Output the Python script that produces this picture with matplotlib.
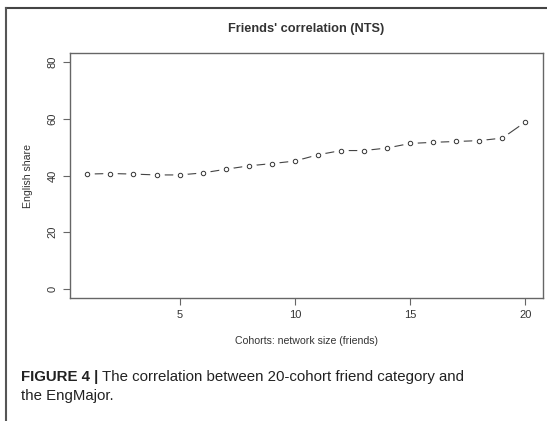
import matplotlib
matplotlib.use("Agg")
import matplotlib.pyplot as plt
from matplotlib.lines import Line2D

plt.rcParams['font.family'] = ['Liberation Sans', 'DejaVu Sans']

# English share per friend cohort
cohorts = list(range(1, 21))
english_share = [40.5, 40.7, 40.5, 40.2, 40.2, 40.9, 42.2, 43.4, 44.2, 45.1,
                 47.3, 48.8, 48.8, 49.7, 51.3, 51.7, 52.0, 52.3, 53.2, 58.9]
x_ticks = [5, 10, 15, 20]
y_ticks = [0, 20, 40, 60, 80]

W, H = 547, 421
text_col = '#333333'
axis_col = '#666666'

fig = plt.figure(figsize=(W / 100, H / 100), dpi=100)
ax = fig.add_axes([69.8 / W, 1 - 298 / H, (543 - 69.8) / W, (298 - 53) / H])

# R type="b": line with gaps around the open circles
ax.plot(cohorts, english_share, color='#444444', lw=0.8, zorder=2)
ax.plot(cohorts, english_share, ls='none', marker='o', ms=10.5,
        mfc='white', mec='none', zorder=3)
ax.plot(cohorts, english_share, ls='none', marker='o', ms=3.2,
        mfc='white', mec='#333333', mew=0.7, zorder=4)

ax.set_xlim(1 - 0.76, 20 + 0.76)
ax.set_ylim(-3.2, 83.2)
ax.set_xticks(x_ticks)
ax.set_yticks(y_ticks)
ax.set_yticklabels([str(v) for v in y_ticks], rotation=90, va='center')
ax.tick_params(direction='out', length=5, width=0.8, color=axis_col,
               labelsize=8, labelcolor=text_col, pad=4)
for s in ax.spines.values():
    s.set_color(axis_col)
    s.set_linewidth(1.0)

ax.set_xlabel('Cohorts: network size (friends)', fontsize=7.6, color=text_col, labelpad=11)
ax.set_ylabel('English share', fontsize=7.6, color=text_col, labelpad=10)

fig.text(306.4 / W, 1 - 28.6 / H, "Friends' correlation (NTS)", ha='center',
         va='center', fontsize=9.2, fontweight='bold', color=text_col)

# caption: bold label followed by plain text
cap_size = 10.8
bold = fig.text(21 / W, 1 - 377 / H, "FIGURE 4 |", fontsize=cap_size, va='center',
                fontweight='bold', color='#222222')
fig.canvas.draw()
bb = bold.get_window_extent()
fig.text((bb.x1 + 4) / W, 1 - 377 / H,
         "The correlation between 20-cohort friend category and",
         fontsize=cap_size, va='center', color='#222222')
fig.text(21 / W, 1 - 395.6 / H, "the EngMajor.", fontsize=cap_size, va='center',
         color='#222222')

# page frame
fig.add_artist(Line2D([6 / W, 1], [1 - 7.5 / H] * 2, color='#444444', lw=1.5))
fig.add_artist(Line2D([6 / W] * 2, [0, 1 - 7.5 / H], color='#555555', lw=1.5))

fig.savefig('out.png', dpi=100)
